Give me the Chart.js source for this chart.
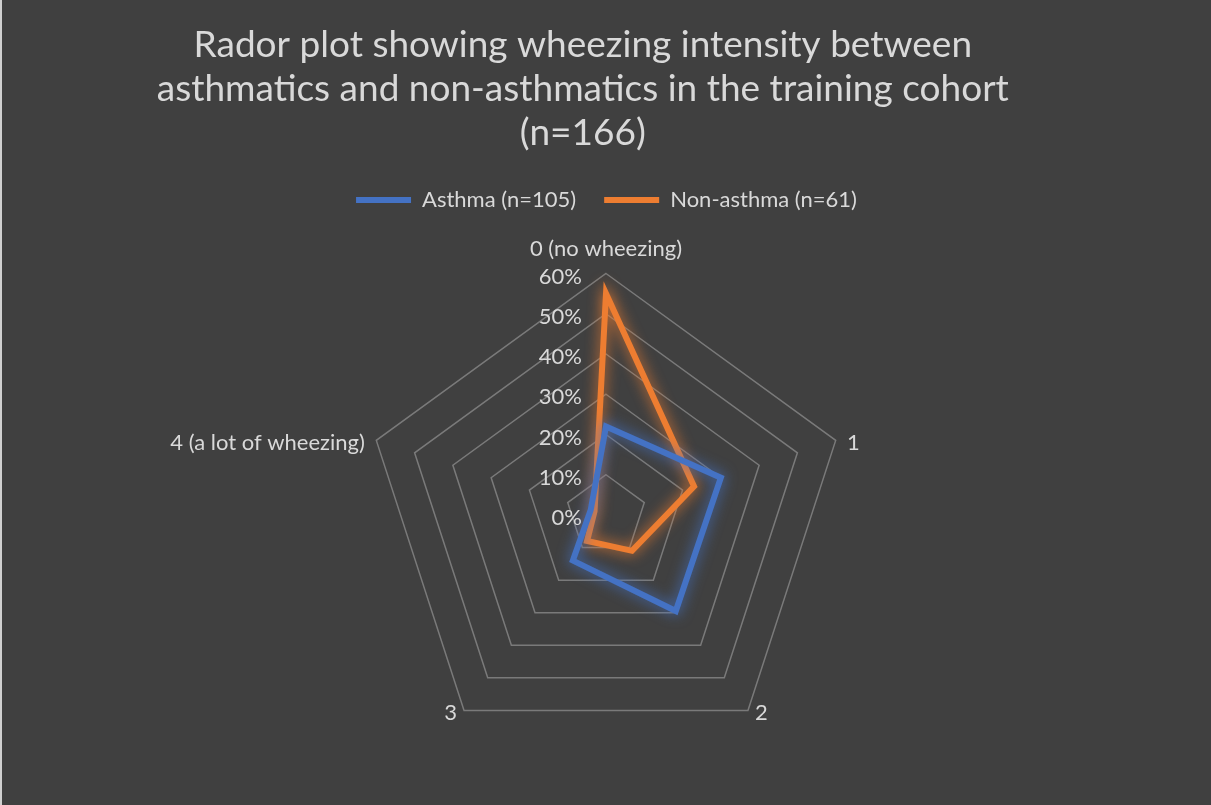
<!DOCTYPE html>
<html lang="en">
<head>
  <meta charset="UTF-8" />
  <title>Wheezing intensity radar</title>
  <script src="https://cdn.jsdelivr.net/npm/chart.js"></script>
  <style>
    html, body {
      margin: 0;
      padding: 0;
      background: #404040;
    }
    .wrap {
      position: relative;
      width: 1211px;
      height: 805px;
      box-sizing: border-box;
      border-left: 2px solid #d0d0d0;
    }
    canvas { display: block; }
  </style>
</head>
<body>

<div class="wrap">
  <canvas id="radarChart" width="1209" height="805"></canvas>
</div>

<script>
  const categories = ['0 (no wheezing)', '1', '2', '3', '4 (a lot of wheezing)'];
  const asthma = [0.22, 0.30, 0.295, 0.14, 0.04];
  const nonAsthma = [0.55, 0.23, 0.11, 0.08, 0.03];
  const seriesNames = ['Asthma (n=105)', 'Non-asthma (n=61)'];
  const titleLines = ['Rador plot showing wheezing intensity between',
                      'asthmatics and non-asthmatics in the training cohort',
                      '(n=166)'];

  const textColor = '#d9d9d9';
  const fontFamily = 'Lato, "Open Sans", sans-serif';
  const smallFont = '22px ' + fontFamily;
  // the title sits a little left of the plot centre in the original
  const titlePad = '\u00a0'.repeat(5);

  // soft glow round each line, like the office chart effect
  const glow = {
    id: 'glow',
    beforeDatasetDraw(chart, args) {
      const ctx = chart.ctx;
      ctx.save();
      ctx.shadowColor = args.meta.dataset.options.borderColor;
      ctx.shadowBlur = 14;
    },
    afterDatasetDraw(chart) {
      chart.ctx.restore();
    }
  };

  // percent labels left of the vertical axis, category labels beside the corners
  const sideLabels = {
    id: 'sideLabels',
    afterDraw(chart) {
      const scale = chart.scales.r;
      const ctx = chart.ctx;
      ctx.save();
      ctx.fillStyle = textColor;
      ctx.font = smallFont;
      ctx.textBaseline = 'middle';

      ctx.textAlign = 'right';
      scale.ticks.forEach(t => {
        const d = scale.getDistanceFromCenterForValue(t.value);
        ctx.fillText(Math.round(t.value * 100) + '%', scale.xCenter - 24, scale.yCenter - d + 3);
      });

      chart.data.labels.forEach((label, i) => {
        const corner = scale.getPointPosition(i, scale.drawingArea);
        const out = scale.getPointPosition(i, scale.drawingArea + 12);
        const dx = corner.x - scale.xCenter;
        if (Math.abs(dx) < 1) {
          ctx.textAlign = 'center';
          ctx.fillText(label, corner.x, corner.y - 25);
        } else {
          ctx.textAlign = dx > 0 ? 'left' : 'right';
          ctx.fillText(label, out.x, corner.y + 3);
        }
      });
      ctx.restore();
    }
  };

  Chart.defaults.font.family = fontFamily;
  Chart.defaults.color = textColor;

  new Chart(document.getElementById('radarChart'), {
    type: 'radar',
    data: {
      labels: categories,
      datasets: [
        {
          label: seriesNames[0],
          data: asthma,
          borderColor: '#4472c4',
          backgroundColor: '#4472c4',
          borderWidth: 6,
          fill: false,
          pointRadius: 0,
          borderJoinStyle: 'miter',
          borderCapStyle: 'round'
        },
        {
          label: seriesNames[1],
          data: nonAsthma,
          borderColor: '#ed7d31',
          backgroundColor: '#ed7d31',
          borderWidth: 6,
          fill: false,
          pointRadius: 0,
          borderJoinStyle: 'miter',
          borderCapStyle: 'round'
        }
      ]
    },
    options: {
      responsive: false,
      animation: false,
      devicePixelRatio: 1,
      layout: { padding: { left: 0, right: 0, top: 0, bottom: 30 } },
      plugins: {
        title: {
          display: true,
          text: titleLines.map(s => s + titlePad),
          color: textColor,
          font: { size: 37, weight: 'normal', lineHeight: 1.19 },
          padding: { top: 23, bottom: 6 }
        },
        legend: {
          labels: {
            usePointStyle: true,
            pointStyle: 'line',
            pointStyleWidth: 55,
            color: textColor,
            font: { size: 22 },
            padding: 28
          }
        },
        tooltip: { enabled: false }
      },
      scales: {
        r: {
          min: 0,
          max: 0.6,
          ticks: { stepSize: 0.1, display: false },
          grid: { color: '#7a7a7a', lineWidth: 1.5 },
          angleLines: { display: false },
          pointLabels: {
            // kept for layout room; the text itself is drawn by sideLabels
            color: 'rgba(0,0,0,0)',
            font: { size: 22 },
            padding: 9
          }
        }
      }
    },
    plugins: [glow, sideLabels]
  });
</script>

</body>
</html>
